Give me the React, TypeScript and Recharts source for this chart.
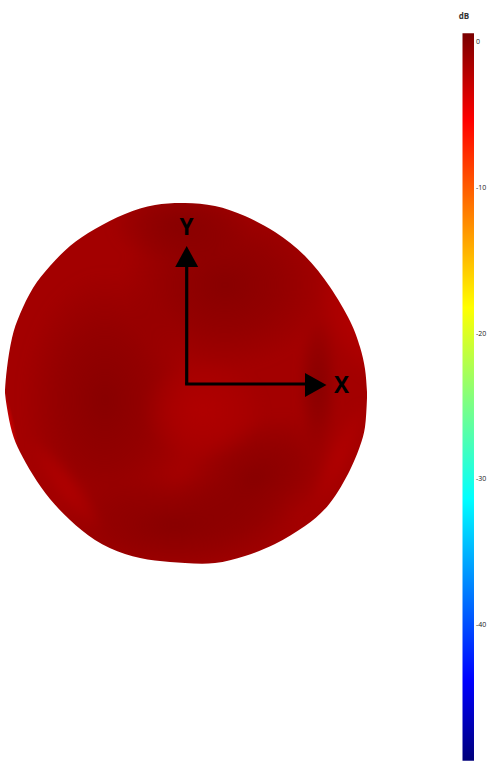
import {
  ComposedChart,
  Area,
  Scatter,
  XAxis,
  YAxis,
  ReferenceArea,
  ReferenceLine,
} from "recharts";

const outlineX = [5, 7, 12, 20, 33, 50, 70, 95, 125, 155, 185, 215, 245, 275, 305, 330, 350, 360, 365, 367];
const outlineTop = [390, 368, 338, 314, 288, 266, 246, 229, 214, 205, 203, 206, 216, 232, 256, 287, 321, 347, 369, 392];
const outlineBottom = [393, 408, 432, 452, 475, 499, 520, 540, 554, 560.5, 563, 563, 556, 544, 526, 503, 470, 446, 427, 398];

const dbTicks = [-40, -30, -20, -10, 0];
const dbTop = 0.6;
const dbBottom = -49.4;

const axisOrigin = { x: 186.7, y: 384 };
const yArrowEnd = { x: 186.7, y: 266 };
const xArrowEnd = { x: 306, y: 384 };
const yArrowHead = [{ x: 186.7, y: 267 }];
const xArrowHead = [{ x: 305, y: 385 }];
const axisNames = [
  { x: 186.5, y: 226, name: "Y" },
  { x: 341.5, y: 384, name: "X" },
];
const titlePoint = [{ x: 464, y: 15, name: "dB" }];

const blob = outlineX.map((x, i) => ({ x, range: [outlineTop[i], outlineBottom[i]] }));

const jetStops = [
  ["0%", "#7a0000"],
  ["12%", "#ff0000"],
  ["37.7%", "#ffff00"],
  ["50.5%", "#80ff80"],
  ["64%", "#00ffff"],
  ["89%", "#0000ff"],
  ["100%", "#00007a"],
];

const patch = (id: string, color: string) => (
  <radialGradient id={id}>
    <stop offset="0%" stopColor={color} stopOpacity={1} />
    <stop offset="55%" stopColor={color} stopOpacity={0.55} />
    <stop offset="100%" stopColor={color} stopOpacity={0} />
  </radialGradient>
);

const UpHead = ({ cx, cy }: any) => (
  <polygon points={`${cx},${cy - 21} ${cx - 11.5},${cy} ${cx + 11.5},${cy}`} fill="#000" />
);
const RightHead = ({ cx, cy }: any) => (
  <polygon points={`${cx},${cy - 12} ${cx + 21.5},${cy} ${cx},${cy + 12}`} fill="#000" />
);
const AxisName = ({ cx, cy, payload }: any) => (
  <text x={cx} y={cy} textAnchor="middle" dominantBaseline="central" fontFamily="Open Sans" fontWeight={700} fontSize={22.5} fill="#000">
    {payload.name}
  </text>
);
const Title = ({ cx, cy, payload }: any) => (
  <text x={cx} y={cy} textAnchor="middle" dominantBaseline="central" fontFamily="Open Sans" fontWeight={700} fontSize={8} fill="#333">
    {payload.name}
  </text>
);

export default function App() {
  return (
    <div style={{ position: "absolute", left: 0, top: 0, width: 490, height: 763 }}>
      <ComposedChart
        width={490}
        height={763}
        data={blob}
        margin={{ top: 0, right: 0, bottom: 0, left: 0 }}
      >
        <defs>
          <linearGradient id="jet" x1="0" y1="0" x2="0" y2="1">
            {jetStops.map(([offset, color]) => (
              <stop key={offset} offset={offset} stopColor={color} />
            ))}
          </linearGradient>
          <filter id="soft" filterUnits="userSpaceOnUse" x="0" y="150" width="420" height="470">
            <feGaussianBlur stdDeviation="5" />
          </filter>
          {patch("dark", "#880000")}
          {patch("light", "#b00000")}
          {patch("rim", "#cc0000")}
          <pattern id="shade" patternUnits="userSpaceOnUse" width="490" height="763">
            <rect width="490" height="763" fill="#a30000" />
            <g filter="url(#soft)">
              <ellipse cx="105" cy="400" rx="85" ry="130" fill="url(#dark)" />
              <ellipse cx="225" cy="285" rx="105" ry="85" fill="url(#dark)" />
              <ellipse cx="180" cy="225" rx="70" ry="40" fill="url(#dark)" />
              <ellipse cx="255" cy="478" rx="85" ry="55" fill="url(#dark)" transform="rotate(-30 255 478)" />
              <ellipse cx="175" cy="525" rx="125" ry="50" fill="url(#dark)" />
              <ellipse cx="318" cy="385" rx="20" ry="70" fill="url(#dark)" />
              <ellipse cx="203" cy="410" rx="62" ry="50" fill="url(#light)" />
              <ellipse cx="350" cy="325" rx="22" ry="62" fill="url(#light)" transform="rotate(-25 350 325)" />
              <ellipse cx="340" cy="455" rx="14" ry="58" fill="url(#light)" transform="rotate(25 340 455)" />
              <ellipse cx="65" cy="485" rx="14" ry="60" fill="url(#light)" transform="rotate(-38 65 485)" />
            </g>
            <ellipse cx="9" cy="425" rx="6" ry="45" fill="url(#rim)" transform="rotate(-12 9 425)" />
          </pattern>
        </defs>

        <XAxis type="number" dataKey="x" domain={[0, 474]} allowDataOverflow hide />
        <YAxis type="number" dataKey="y" domain={[0, 763]} reversed allowDataOverflow hide />
        <YAxis
          yAxisId="db"
          orientation="right"
          type="number"
          width={16}
          domain={[-49.55, 2.887]}
          ticks={dbTicks}
          interval={0}
          allowDataOverflow
          axisLine={false}
          tickLine={false}
          tickSize={0}
          tickMargin={2}
          tick={{ fontSize: 7, fill: "#222", fontFamily: "Open Sans", textAnchor: "start" }}
        />

        <Area
          dataKey="range"
          type="natural"
          fill="url(#shade)"
          fillOpacity={1}
          stroke="none"
          isAnimationActive={false}
          dot={false}
          activeDot={false}
        />

        <ReferenceLine segment={[axisOrigin, yArrowEnd]} stroke="#000" strokeWidth={3.2} />
        <ReferenceLine
          segment={[{ x: axisOrigin.x - 1.6, y: axisOrigin.y }, xArrowEnd]}
          stroke="#000"
          strokeWidth={3.2}
        />
        <Scatter data={yArrowHead} shape={UpHead} isAnimationActive={false} />
        <Scatter data={xArrowHead} shape={RightHead} isAnimationActive={false} />
        <Scatter data={axisNames} shape={AxisName} isAnimationActive={false} />
        <Scatter data={titlePoint} shape={Title} isAnimationActive={false} />

        <ReferenceArea
          yAxisId="db"
          x1={462.5}
          x2={474}
          y1={dbBottom}
          y2={dbTop}
          fill="url(#jet)"
          fillOpacity={1}
          stroke="none"
        />
      </ComposedChart>
    </div>
  );
}
